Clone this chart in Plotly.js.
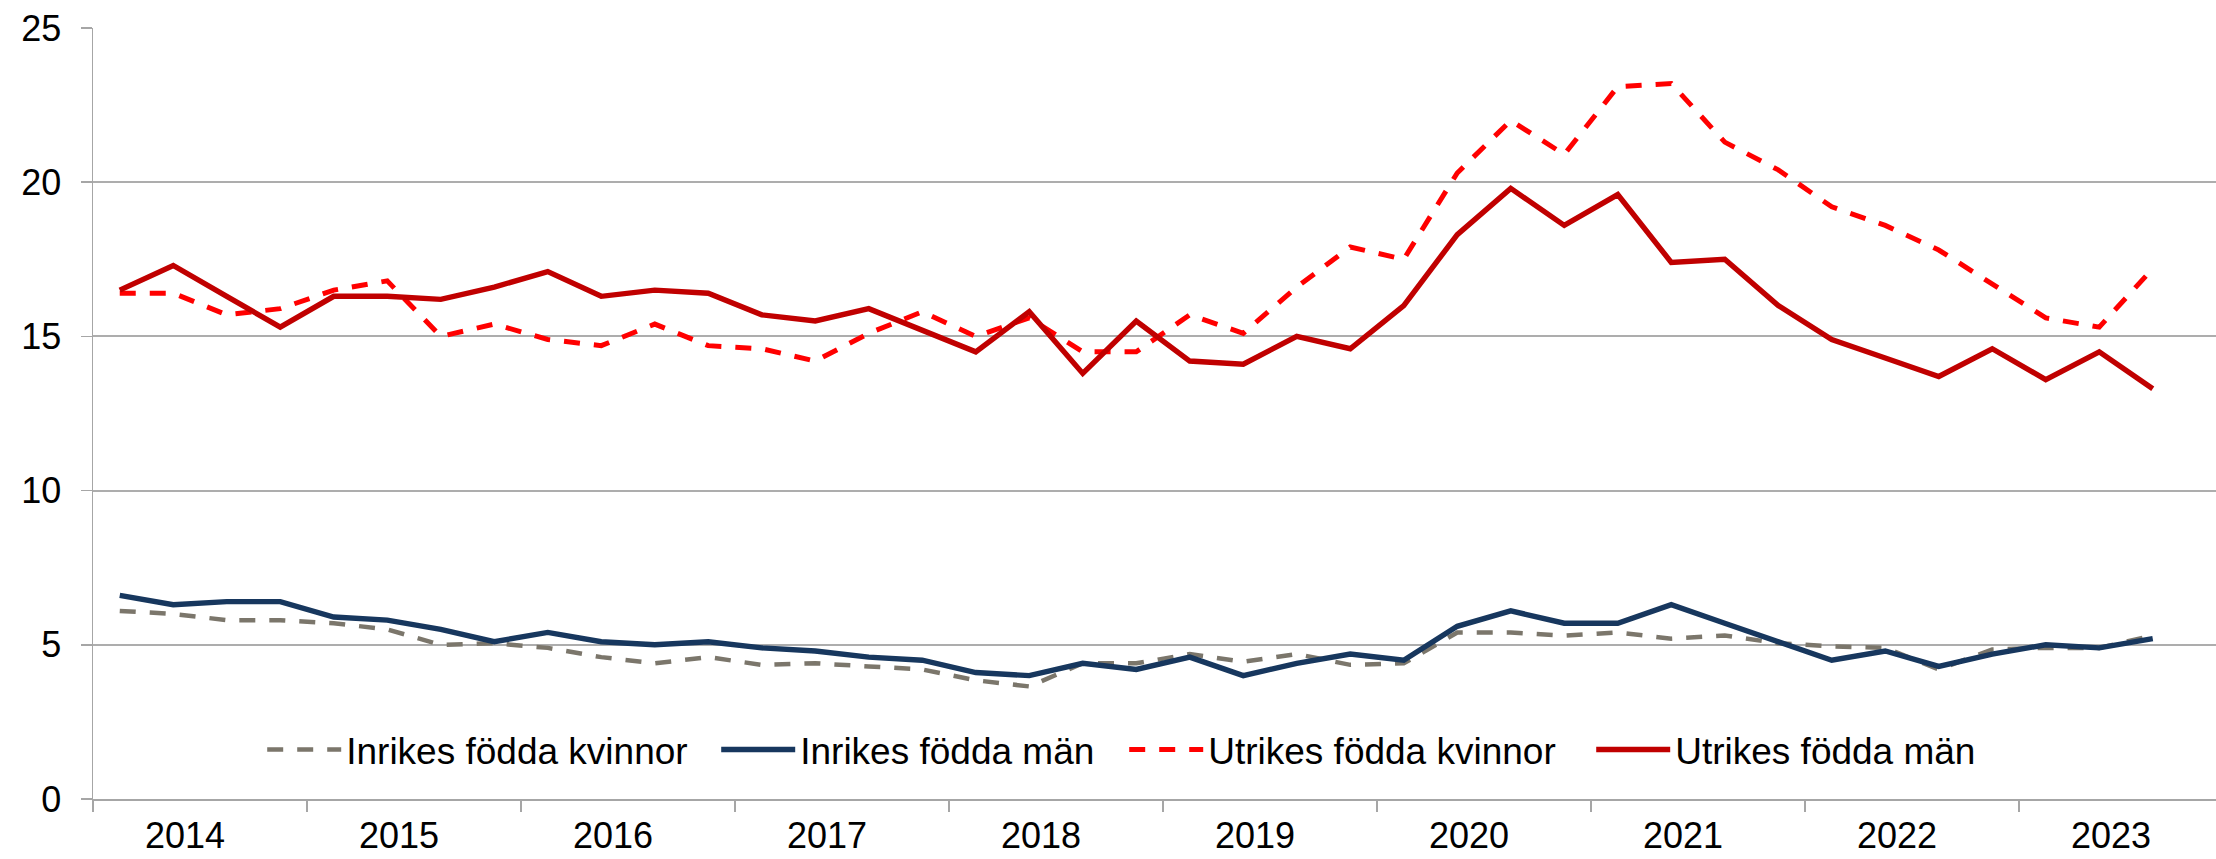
<!DOCTYPE html>
<html><head><meta charset="utf-8">
<script src="https://cdn.plot.ly/plotly-3.0.1.min.js"></script>
<style>html,body{margin:0;padding:0;background:#fff}#chart{width:2216px;height:859px}</style>
</head><body><div id="chart"></div>
<script>
// Quarterly series 2014 K1 – 2023 K3
const years = ['2014','2015','2016','2017','2018','2019','2020','2021','2022','2023'];
const quartersPerYear = 4;

const inrikesKvinnor = [6.1,6.0,5.8,5.8,5.7,5.5,5.0,5.05,4.9,4.6,4.4,4.6,4.35,4.4,4.3,4.2,3.85,3.65,4.4,4.4,4.7,4.45,4.7,4.35,4.4,5.4,5.4,5.3,5.4,5.2,5.3,5.05,4.95,4.9,4.2,4.85,4.9,4.9,5.3];
const inrikesMan     = [6.6,6.3,6.4,6.4,5.9,5.8,5.5,5.1,5.4,5.1,5.0,5.1,4.9,4.8,4.6,4.5,4.1,4.0,4.4,4.2,4.6,4.0,4.4,4.7,4.5,5.6,6.1,5.7,5.7,6.3,5.7,5.1,4.5,4.8,4.3,4.7,5.0,4.9,5.2];
const utrikesKvinnor = [16.4,16.4,15.7,15.9,16.5,16.8,15.0,15.4,14.9,14.7,15.4,14.7,14.6,14.2,15.1,15.8,15.0,15.6,14.5,14.5,15.7,15.1,16.6,17.9,17.5,20.3,22.0,20.9,23.1,23.2,21.3,20.4,19.2,18.6,17.8,16.7,15.6,15.3,17.2];
const utrikesMan     = [16.5,17.3,16.3,15.3,16.3,16.3,16.2,16.6,17.1,16.3,16.5,16.4,15.7,15.5,15.9,15.2,14.5,15.8,13.8,15.5,14.2,14.1,15.0,14.6,16.0,18.3,19.8,18.6,19.6,17.4,17.5,16.0,14.9,14.3,13.7,14.6,13.6,14.5,13.3];

const seriesNames = ['Inrikes födda kvinnor','Inrikes födda män','Utrikes födda kvinnor','Utrikes födda män'];
const yTicks = [0,5,10,15,20,25];

const FONT = '"Liberation Sans", Arial, sans-serif';
const x = inrikesMan.map((_, i) => i);

const DASH = '16px,14px';
const traces = [
  {x, y: inrikesKvinnor, name: seriesNames[0], mode:'lines', line:{color:'#7B766B', width:4.5, dash:DASH}, legendwidth: 365},
  {x, y: inrikesMan, name: seriesNames[1], mode:'lines', line:{color:'#17375E', width:5.4}, legendwidth: 319},
  {x, y: utrikesKvinnor, name: seriesNames[2], mode:'lines', line:{color:'#FF0000', width:5, dash:DASH}, legendwidth: 378},
  {x, y: utrikesMan, name: seriesNames[3], mode:'lines', line:{color:'#C00000', width:5.4}}
];

const plotW = 2216 - 93;
const catPx = 53.5;
const xMin = -0.5;
const xMax = xMin + plotW / catPx;

const boundaries = years.map((_, k) => k * quartersPerYear - 0.5);
const labelShift = 0.28;
const labelPos = years.map((_, k) => k * quartersPerYear + (quartersPerYear - 1) / 2 - labelShift);

const layout = {
  width: 2216, height: 859,
  margin: {l: 93, r: 0, t: 28, b: 60, pad: 0},
  paper_bgcolor: '#ffffff', plot_bgcolor: '#ffffff',
  font: {family: FONT, size: 36, color: '#000000'},
  showlegend: true,
  legend: {
    orientation: 'h', x: 0.0797, xanchor: 'left', y: 0.0636, yanchor: 'middle',
    font: {family: FONT, size: 37, color: '#000'}, bgcolor: 'rgba(0,0,0,0)',
    itemwidth: 74, traceorder: 'normal'
  },
  xaxis: {
    range: [xMin, xMax], showgrid: false, zeroline: false,
    showline: true, linecolor: '#A6A6A6', linewidth: 1.5,
    tickmode: 'array', tickvals: labelPos, ticktext: years,
    ticks: '', ticklabelstandoff: 4,
    tickfont: {family: FONT, size: 36, color: '#000'},
    minor: {tickmode: 'array', tickvals: boundaries, ticks: 'outside', ticklen: 11, tickcolor: '#A6A6A6', tickwidth: 1.5, showgrid: false},
    fixedrange: true
  },
  yaxis: {
    range: [0, 25], tickmode: 'array', tickvals: yTicks,
    showgrid: true, gridcolor: '#ADADAD', gridwidth: 1.8,
    zeroline: false, showline: true, linecolor: '#A6A6A6', linewidth: 1.5,
    ticks: 'outside', ticklen: 11, tickcolor: '#A6A6A6', tickwidth: 1.5,
    ticklabelstandoff: 12,
    tickfont: {family: FONT, size: 36, color: '#000'},
    fixedrange: true
  }
};

Plotly.newPlot('chart', traces, layout, {staticPlot: true, displayModeBar: false});
</script>
</body></html>
